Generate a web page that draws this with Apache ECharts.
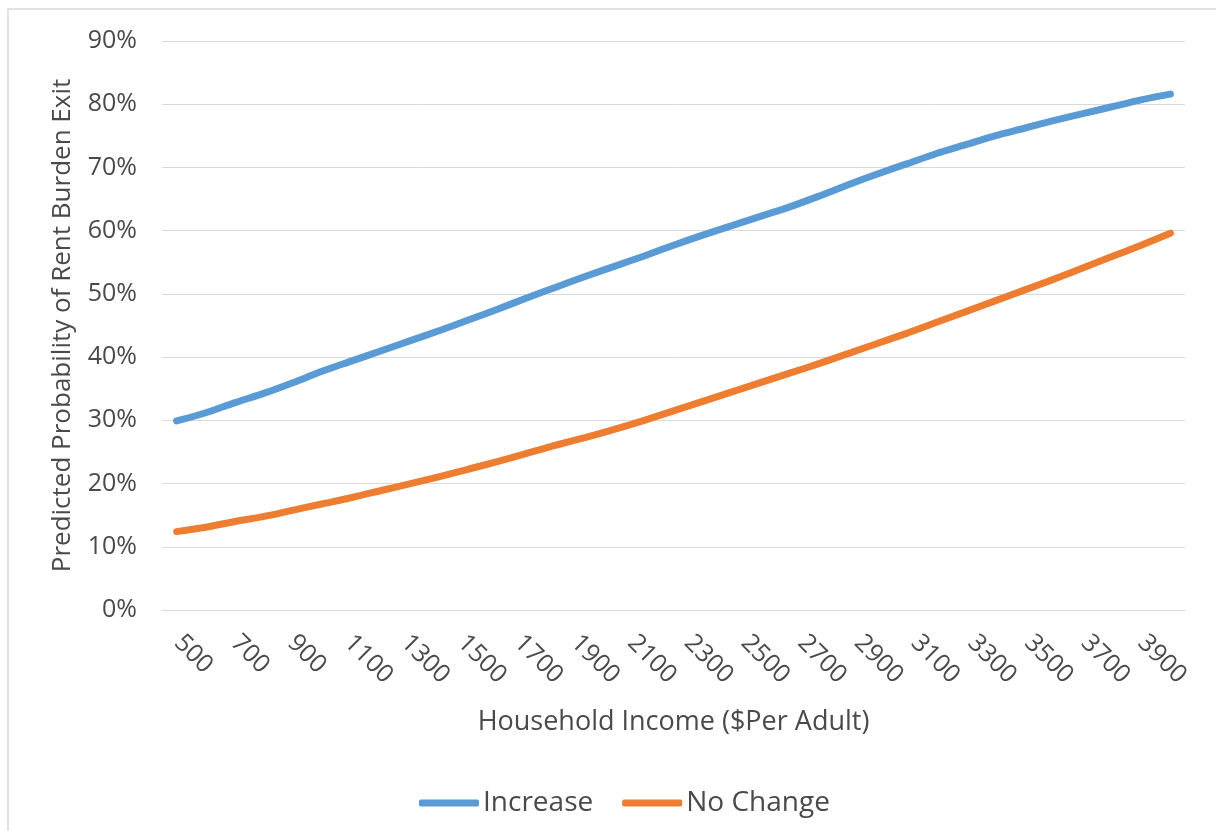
<!DOCTYPE html>
<html>
<head>
<meta charset="utf-8">
<script src="https://cdn.jsdelivr.net/npm/echarts@6/dist/echarts.min.js"></script>
<style>
html,body{margin:0;padding:0;background:#fff;}
#c{width:1216px;height:831px;}
</style>
</head>
<body>
<div id="c"></div>
<script>
var categories = ['500','600','700','800','900','1000','1100','1200','1300','1400','1500','1600','1700','1800','1900','2000','2100','2200','2300','2400','2500','2600','2700','2800','2900','3000','3100','3200','3300','3400','3500','3600','3700','3800','3900'];
var increase = [29.9,31.2,32.8,34.3,36.0,37.8,39.4,41.0,42.6,44.2,45.9,47.6,49.4,51.1,52.8,54.4,56.0,57.7,59.3,60.8,62.3,63.8,65.5,67.3,69.0,70.6,72.2,73.6,75.0,76.2,77.4,78.5,79.6,80.7,81.6];
var noChange = [12.4,13.1,14.0,14.8,15.8,16.8,17.8,18.9,20.0,21.1,22.3,23.5,24.8,26.1,27.3,28.6,30.0,31.5,33.0,34.5,36.0,37.5,39.0,40.6,42.2,43.8,45.5,47.2,48.9,50.6,52.3,54.1,55.9,57.7,59.6];
var seriesNames = ['Increase','No Change'];
var yTicks = {min:0, max:90, interval:10};

var font = '"Open Sans", sans-serif';
var txt = '#4a4a4a';
var chart = echarts.init(document.getElementById('c'));
chart.setOption({
  animation:false,
  backgroundColor:'#ffffff',
  graphic:[{type:'rect',shape:{x:8,y:9,width:1400,height:1000},style:{fill:'none',stroke:'#d9d9d9',lineWidth:1.5},silent:true}],
  grid:[
    {left:162,right:31,top:41,bottom:221,containLabel:false},
    {left:164,right:60,top:41,bottom:221,containLabel:false}
  ],
  legend:{
    data:seriesNames,bottom:9,left:414,
    itemWidth:60,itemHeight:7,itemGap:29,icon:'roundRect',
    textStyle:{fontFamily:font,fontSize:28,color:txt,padding:[0,0,0,-1]}
  },
  xAxis:[{
    type:'category',data:categories,boundaryGap:true,gridIndex:0,
    axisLine:{show:true,lineStyle:{color:'#d9d9d9',width:1}},
    axisTick:{show:false},
    axisLabel:{show:false},
    name:'Household Income ($Per Adult)',nameLocation:'middle',nameGap:99,
    nameTextStyle:{fontFamily:font,fontSize:27,color:txt}
  },{
    type:'category',data:categories,boundaryGap:true,gridIndex:1,
    axisLine:{show:false},axisTick:{show:false},splitLine:{show:false},
    axisLabel:{interval:1,rotate:-45,fontFamily:font,fontSize:25,color:txt,margin:29}
  }],
  yAxis:[{
    type:'value',min:yTicks.min,max:yTicks.max,interval:yTicks.interval,gridIndex:0,
    axisLine:{show:false},axisTick:{show:false},
    splitLine:{lineStyle:{color:'#d9d9d9',width:1}},
    axisLabel:{formatter:'{value}%',fontFamily:font,fontSize:25,color:txt,margin:25},
    name:'Predicted Probability of Rent Burden Exit',nameLocation:'middle',nameGap:86,nameRotate:90,
    nameTextStyle:{fontFamily:font,fontSize:26,color:txt}
  },{
    type:'value',min:yTicks.min,max:yTicks.max,interval:yTicks.interval,gridIndex:1,show:false,
    splitLine:{show:false}
  }],
  series:[
    {name:seriesNames[0],type:'line',data:increase,smooth:0.3,showSymbol:false,symbol:'none',
     lineStyle:{color:'#5b9bd5',width:7,cap:'round'},itemStyle:{color:'#5b9bd5'}},
    {name:seriesNames[1],type:'line',data:noChange,smooth:0.3,showSymbol:false,symbol:'none',
     lineStyle:{color:'#ed7d31',width:7,cap:'round'},itemStyle:{color:'#ed7d31'}}
  ]
});
</script>
</body>
</html>
